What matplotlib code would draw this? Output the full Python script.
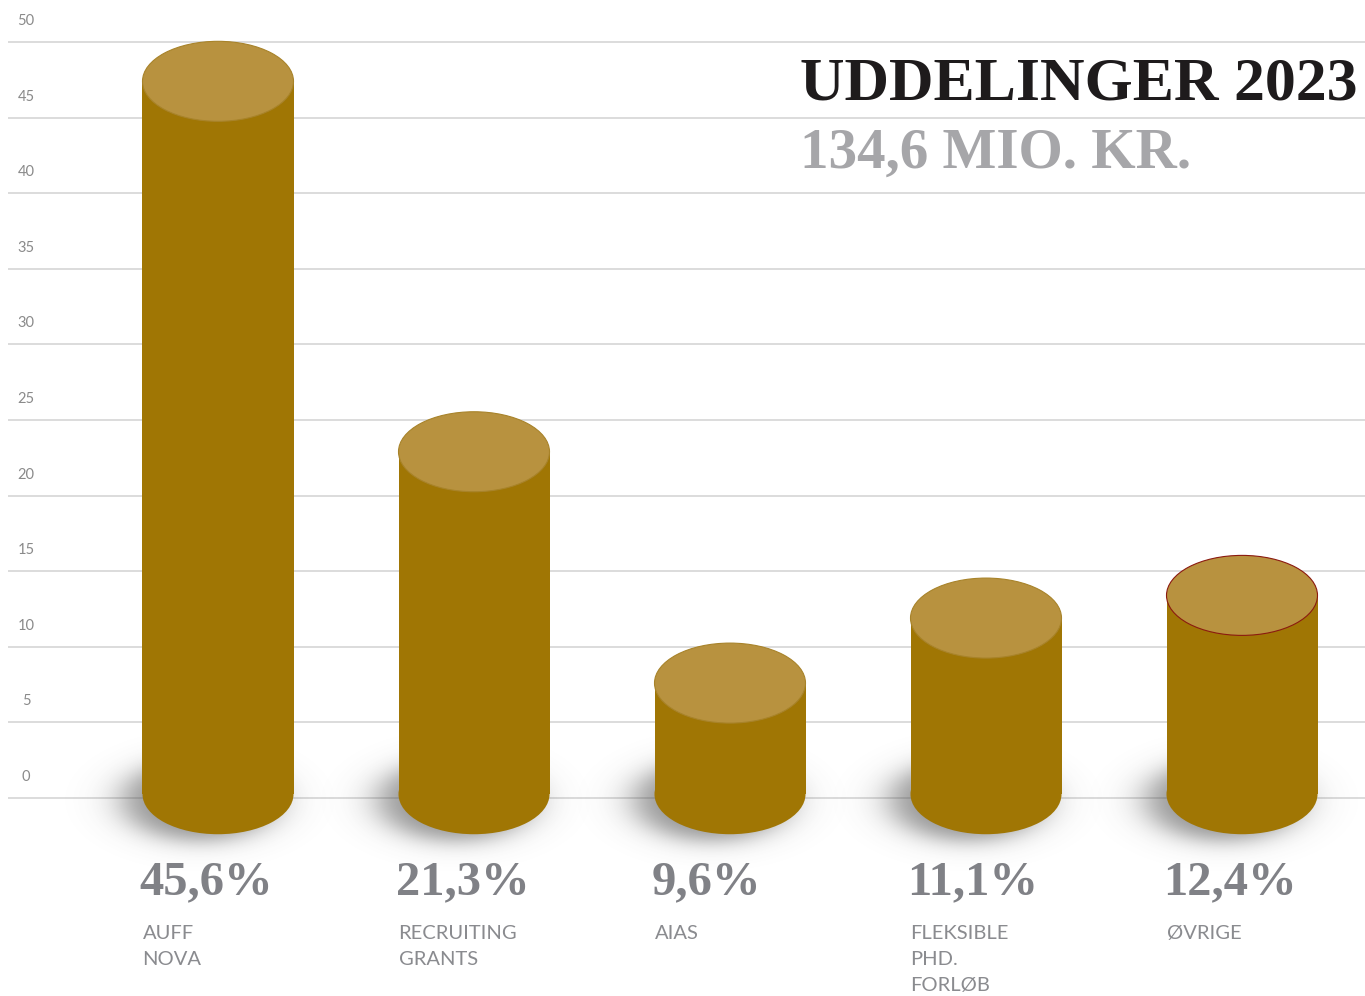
import matplotlib
matplotlib.use("Agg")
import matplotlib.pyplot as plt
from matplotlib.patches import Ellipse, Rectangle
import numpy as np

# data
categories = ["AUFF\nNOVA", "RECRUITING\nGRANTS", "AIAS", "FLEKSIBLE\nPHD.\nFORLØB", "ØVRIGE"]
bar_heights = [47.4, 22.9, 7.6, 11.9, 13.4]      # level of the cylinder tops
pct_labels = ["45,6%", "21,3%", "9,6%", "11,1%", "12,4%"]
yticks = [0, 5, 10, 15, 20, 25, 30, 35, 40, 45, 50]
title = "UDDELINGER 2023"
subtitle = "134,6 MIO. KR."

# styling
W, H = 1365, 996
PX_X = 256.0      # pixels per category
PX_Y = 15.12      # pixels per y unit
X0 = 218.0        # pixel of first bar centre
Y0 = 798.0        # pixel of y = 0
bar_w = 151 / PX_X
ell_h = 80 / PX_Y
base = 0.25
body_col = "#a07604"
top_col = "#b8923f"
grid_col = "#d9d9d9"

fig = plt.figure(figsize=(W / 100, H / 100), dpi=100)
ax = fig.add_axes([0, 0, 1, 1])
xlim = (-X0 / PX_X, (W - X0) / PX_X)
ylim = (-(H - Y0) / PX_Y, Y0 / PX_Y)
ax.axis("off")

# gridlines + tick labels
ax.hlines(yticks, (8 - X0) / PX_X, xlim[1], color=grid_col, lw=1.3, zorder=1)
for t in yticks:
    ax.annotate(str(t), xy=((26 - X0) / PX_X, t), xytext=(0, 21), textcoords="offset pixels",
                ha="center", va="center", fontsize=10.5, color="#8a8a8a", family="Lato")

# soft shadows at the foot of the cylinders
for i, h in enumerate(bar_heights):
    xs = np.linspace(i - 0.8, i + 0.5, 260)
    ys = np.linspace(-7, 6, 200)
    X, Y = np.meshgrid(xs, ys)
    dx = (X - (i - 18 / PX_X)) * PX_X
    dy = (Y - (base - 0.4)) * PX_Y
    r = np.sqrt((dx / 76) ** 2 + (dy / 40) ** 2)
    d = (r - 1) * 42
    alpha = 0.6 / (1 + np.exp(d / 6.5))
    img = np.zeros(alpha.shape + (4,))
    img[..., :3] = 0.3
    img[..., 3] = alpha
    ax.imshow(img, extent=(xs[0], xs[-1], ys[0], ys[-1]), origin="lower",
              aspect="auto", zorder=2, interpolation="bilinear")

# cylinders
for i, h in enumerate(bar_heights):
    ax.add_patch(Ellipse((i, base), bar_w, ell_h, facecolor=body_col, edgecolor="none", zorder=3))
    ax.add_patch(Rectangle((i - bar_w / 2, base), bar_w, h - base, facecolor=body_col,
                           edgecolor="none", zorder=3))
    edge = "#8b1a10" if i == len(bar_heights) - 1 else "#a8832a"
    ax.add_patch(Ellipse((i, h), bar_w, ell_h, facecolor=top_col, edgecolor=edge,
                         lw=0.8, zorder=4))

    ax.annotate(pct_labels[i], xy=(i - bar_w / 2, 0), xytext=(-3, -96), textcoords="offset pixels",
                ha="left", va="baseline", fontsize=35, fontweight="bold",
                family="Liberation Serif", color="#808186")
    ax.annotate(categories[i], xy=(i - bar_w / 2, 0), xytext=(0, -127), textcoords="offset pixels",
                ha="left", va="top", fontsize=14.5, family="Lato",
                color="#8a8b8f", linespacing=1.65)

ax.set_xlim(*xlim)
ax.set_ylim(*ylim)

fig.text(800 / W, (H - 100) / H, title, ha="left", va="baseline", fontsize=44.5,
         fontweight="bold", family="Liberation Serif", color="#1e1b1c")
fig.text(800 / W, (H - 168) / H, subtitle, ha="left", va="baseline", fontsize=41,
         fontweight="bold", family="Liberation Serif", color="#a6a6a9")

fig.savefig("out.png", dpi=100, facecolor="white")
